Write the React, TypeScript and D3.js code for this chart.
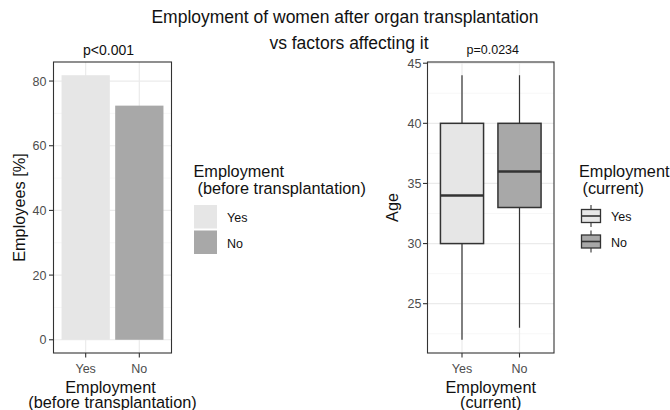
import React from 'react'
import * as d3 from 'd3'

// bar panel: share of employed women, by employment before transplantation
const barCategories = ['Yes', 'No']
const barValues = [81.8, 72.4]
const barTicks = [0, 20, 40, 60, 80]

// box panel: age by current employment
const boxCategories = ['Yes', 'No']
const boxMin = [22, 23]
const boxQ1 = [30, 33]
const boxMedian = [34, 36]
const boxQ3 = [40, 40]
const boxMax = [44, 44]
const ageTicks = [25, 30, 35, 40, 45]

const fills = ['#e6e6e6', '#a8a8a8']

const FONT = '"Liberation Sans", Arial, Helvetica, sans-serif'
const GRID = '#ebebeb'
const MINOR = '#f3f3f3'
const DARK = '#333333'
const TICK_TXT = '#4d4d4d'
const TITLE_SIZE = 16.3
const TICK_SIZE = 12.5

export default function App() {
  // left panel
  const L = { left: 53.5, right: 171.5, top: 62, bottom: 353 }
  const barMax = d3.max(barValues) as number
  const bx = d3.scalePoint<string>().domain(barCategories).range([L.left, L.right]).padding(0.6)
  const by = d3.scaleLinear().domain([-0.05 * barMax, barMax * 1.05]).range([L.bottom, L.top])
  const barW = bx.step() * 0.9
  const barMinor = d3.range(10, 90, 20).filter(v => v > by.domain()[0] && v < by.domain()[1])

  // right panel
  const R = { left: 427.5, right: 554, top: 62, bottom: 353 }
  const lo = d3.min(boxMin) as number
  const hi = d3.max(boxMax) as number
  const pad = (hi - lo) * 0.05
  const rx = d3.scalePoint<string>().domain(boxCategories).range([R.left, R.right]).padding(0.6)
  const ry = d3.scaleLinear().domain([lo - pad, hi + pad]).range([R.bottom, R.top])
  const boxW = rx.step() * 0.75
  const ageMinor = d3.range(22.5, 45, 5)

  return (
    <svg width={670} height={410} style={{ position: 'absolute', left: 0, top: 0, background: '#fff' }} fontFamily={FONT}>
      {/* title */}
      <text x={345} y={23} textAnchor="middle" fontSize={17.5} fill="#111">Employment of women after organ transplantation</text>
      <text x={349} y={49} textAnchor="middle" fontSize={17.5} fill="#111">vs factors affecting it</text>

      {/* ===== left panel ===== */}
      <text x={(L.left + L.right) / 2 - 4} y={55} textAnchor="middle" fontSize={14} fill="#111">p&lt;0.001</text>
      <rect x={L.left} y={L.top} width={L.right - L.left} height={L.bottom - L.top} fill="#fff" />
      {barMinor.map(v => (
        <line key={'lm' + v} x1={L.left} x2={L.right} y1={by(v)} y2={by(v)} stroke={MINOR} strokeWidth={0.7} />
      ))}
      {barTicks.map(v => (
        <line key={'lg' + v} x1={L.left} x2={L.right} y1={by(v)} y2={by(v)} stroke={GRID} strokeWidth={1.2} />
      ))}
      {barCategories.map(c => (
        <line key={'lv' + c} x1={bx(c)} x2={bx(c)} y1={L.top} y2={L.bottom} stroke={GRID} strokeWidth={1.2} />
      ))}
      {barCategories.map((c, i) => (
        <rect key={'bar' + c} x={(bx(c) as number) - barW / 2} y={by(barValues[i])} width={barW}
          height={by(0) - by(barValues[i])} fill={fills[i]} />
      ))}
      <rect x={L.left} y={L.top} width={L.right - L.left} height={L.bottom - L.top} fill="none" stroke={DARK} strokeWidth={1.1} />
      {barTicks.map(v => (
        <g key={'lt' + v}>
          <line x1={L.left - 4.5} x2={L.left} y1={by(v)} y2={by(v)} stroke={DARK} strokeWidth={1.1} />
          <text x={L.left - 7} y={by(v) + 4.5} textAnchor="end" fontSize={TICK_SIZE} fill={TICK_TXT}>{v}</text>
        </g>
      ))}
      {barCategories.map(c => (
        <g key={'lx' + c}>
          <line x1={bx(c)} x2={bx(c)} y1={L.bottom} y2={L.bottom + 4.5} stroke={DARK} strokeWidth={1.1} />
          <text x={bx(c)} y={373} textAnchor="middle" fontSize={TICK_SIZE} fill={TICK_TXT}>{c}</text>
        </g>
      ))}
      <text x={(L.left + L.right) / 2 - 2} y={393} textAnchor="middle" fontSize={TITLE_SIZE} fill="#111">Employment</text>
      <text x={(L.left + L.right) / 2} y={407.5} textAnchor="middle" fontSize={TITLE_SIZE} fill="#111">(before transplantation)</text>
      <text transform={`translate(25,${(L.top + L.bottom) / 2}) rotate(-90)`} textAnchor="middle" fontSize={TITLE_SIZE} fill="#111">Employees [%]</text>

      {/* left legend */}
      <text x={193.5} y={177} fontSize={TITLE_SIZE} fill="#111">Employment</text>
      <text x={197.5} y={193.5} fontSize={TITLE_SIZE} fill="#111">(before transplantation)</text>
      {barCategories.map((c, i) => (
        <g key={'ll' + c}>
          <rect x={194} y={205 + i * 25.5} width={23} height={23.5} fill={fills[i]} />
          <text x={227} y={222 + i * 25.5} fontSize={TICK_SIZE} fill="#111">{c}</text>
        </g>
      ))}

      {/* ===== right panel ===== */}
      <text x={(R.left + R.right) / 2 + 2} y={54} textAnchor="middle" fontSize={12.5} fill="#111">p=0.0234</text>
      <rect x={R.left} y={R.top} width={R.right - R.left} height={R.bottom - R.top} fill="#fff" />
      {ageMinor.map(v => (
        <line key={'rm' + v} x1={R.left} x2={R.right} y1={ry(v)} y2={ry(v)} stroke={MINOR} strokeWidth={0.7} />
      ))}
      {ageTicks.map(v => (
        <line key={'rg' + v} x1={R.left} x2={R.right} y1={ry(v)} y2={ry(v)} stroke={GRID} strokeWidth={1.2} />
      ))}
      {boxCategories.map(c => (
        <line key={'rv' + c} x1={rx(c)} x2={rx(c)} y1={R.top} y2={R.bottom} stroke={GRID} strokeWidth={1.2} />
      ))}
      {boxCategories.map((c, i) => {
        const cx = rx(c) as number
        return (
          <g key={'box' + c}>
            <line x1={cx} x2={cx} y1={ry(boxMax[i])} y2={ry(boxQ3[i])} stroke={DARK} strokeWidth={1.2} />
            <line x1={cx} x2={cx} y1={ry(boxQ1[i])} y2={ry(boxMin[i])} stroke={DARK} strokeWidth={1.2} />
            <rect x={cx - boxW / 2} y={ry(boxQ3[i])} width={boxW} height={ry(boxQ1[i]) - ry(boxQ3[i])}
              fill={fills[i]} stroke={DARK} strokeWidth={1.5} />
            <line x1={cx - boxW / 2} x2={cx + boxW / 2} y1={ry(boxMedian[i])} y2={ry(boxMedian[i])} stroke={DARK} strokeWidth={2.6} />
          </g>
        )
      })}
      <rect x={R.left} y={R.top} width={R.right - R.left} height={R.bottom - R.top} fill="none" stroke={DARK} strokeWidth={1.1} />
      {ageTicks.map(v => (
        <g key={'rt' + v}>
          <line x1={R.left - 4.5} x2={R.left} y1={ry(v)} y2={ry(v)} stroke={DARK} strokeWidth={1.1} />
          <text x={R.left - 6} y={ry(v) + 4.5} textAnchor="end" fontSize={TICK_SIZE} fill={TICK_TXT}>{v}</text>
        </g>
      ))}
      {boxCategories.map(c => (
        <g key={'rx' + c}>
          <line x1={rx(c)} x2={rx(c)} y1={R.bottom} y2={R.bottom + 4.5} stroke={DARK} strokeWidth={1.1} />
          <text x={rx(c)} y={373} textAnchor="middle" fontSize={TICK_SIZE} fill={TICK_TXT}>{c}</text>
        </g>
      ))}
      <text x={(R.left + R.right) / 2} y={393} textAnchor="middle" fontSize={TITLE_SIZE} fill="#111">Employment</text>
      <text x={(R.left + R.right) / 2} y={407.5} textAnchor="middle" fontSize={TITLE_SIZE} fill="#111">(current)</text>
      <text transform={`translate(398,${(R.top + R.bottom) / 2}) rotate(-90)`} textAnchor="middle" fontSize={TITLE_SIZE} fill="#111">Age</text>

      {/* right legend */}
      <text x={579} y={177} fontSize={TITLE_SIZE} fill="#111">Employment</text>
      <text x={582.5} y={193.5} fontSize={TITLE_SIZE} fill="#111">(current)</text>
      {boxCategories.map((c, i) => {
        const y0 = 205 + i * 25.5
        return (
          <g key={'rl' + c}>
            <line x1={591} x2={591} y1={y0} y2={y0 + 22} stroke={DARK} strokeWidth={1.1} />
            <rect x={581.5} y={y0 + 4.5} width={19} height={13} fill={fills[i]} stroke={DARK} strokeWidth={1.3} />
            <line x1={581.5} x2={600.5} y1={y0 + 11} y2={y0 + 11} stroke={DARK} strokeWidth={1.6} />
            <text x={611} y={y0 + 16} fontSize={TICK_SIZE} fill="#111">{c}</text>
          </g>
        )
      })}
    </svg>
  )
}
